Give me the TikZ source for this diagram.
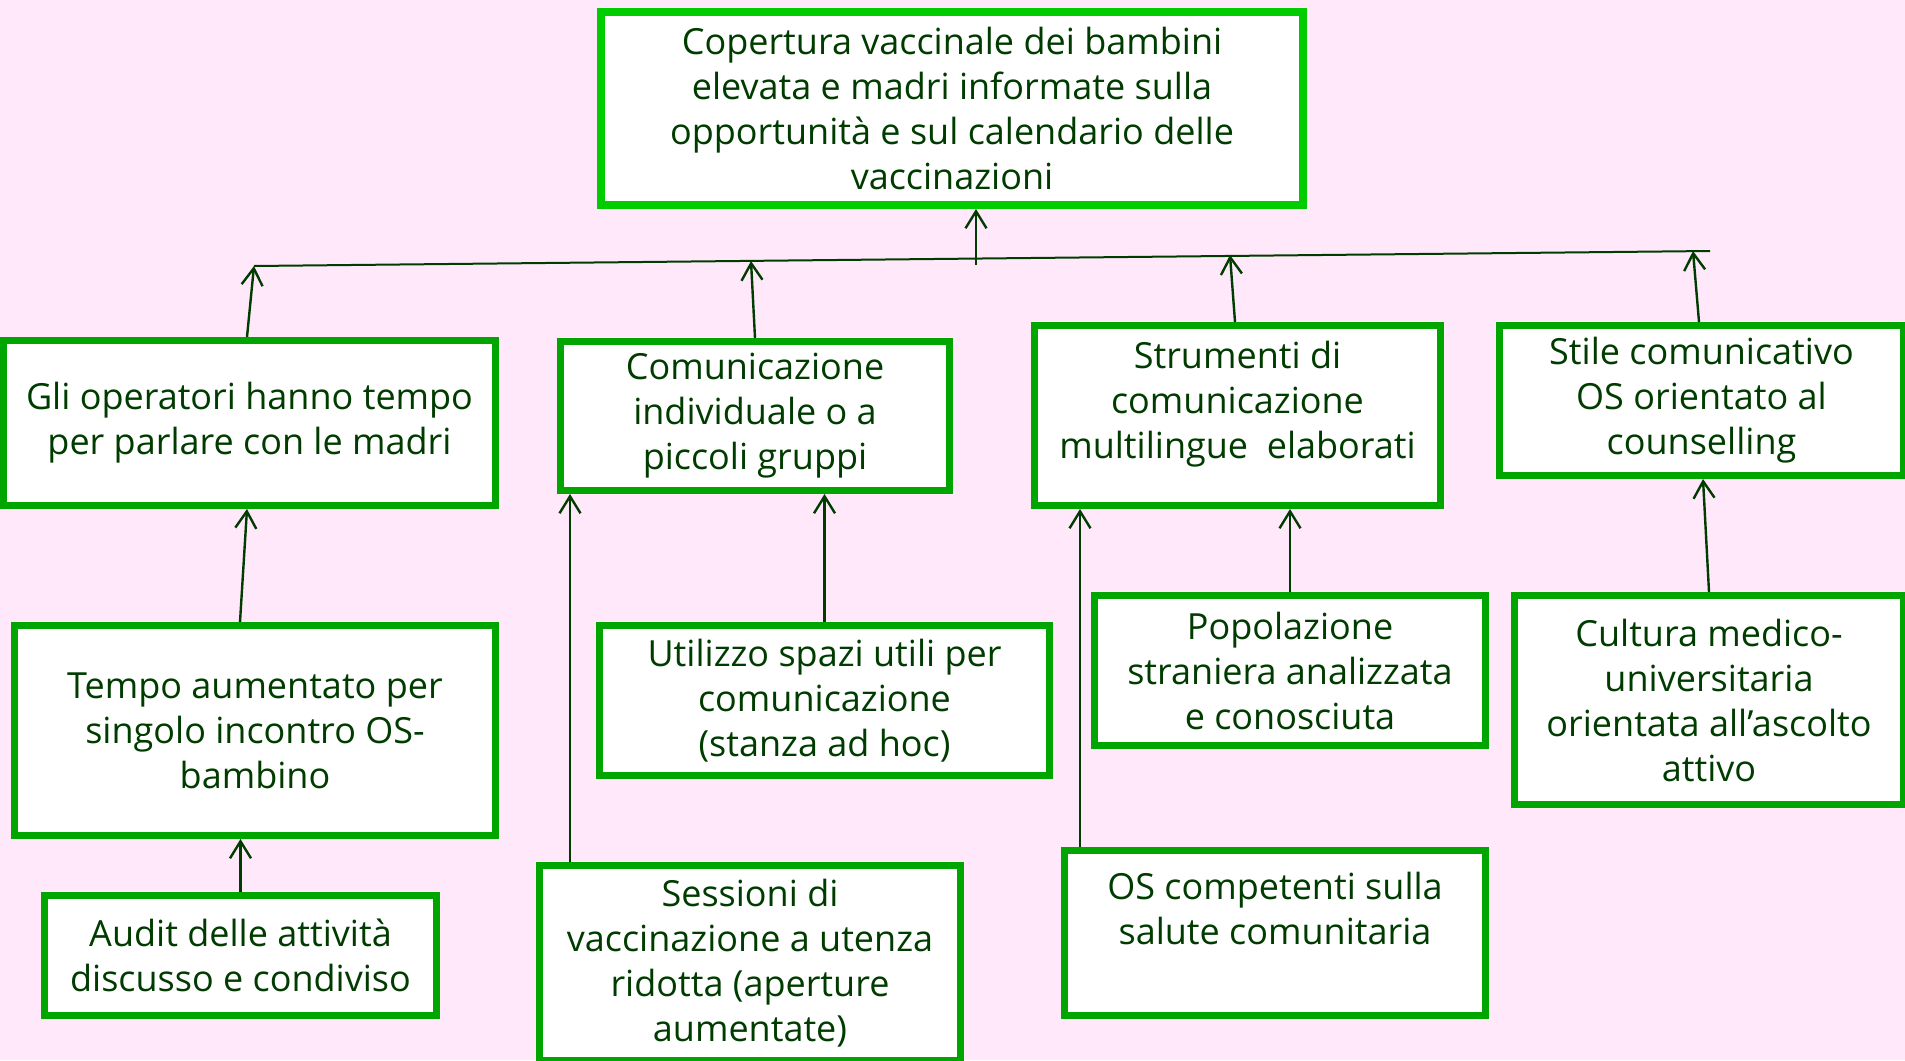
\documentclass[tikz,border=0pt]{standalone}
\usepackage{fontspec}
\setmainfont{Open Sans}
\usetikzlibrary{arrows.meta}

\definecolor{bg}{RGB}{255,232,250}
\definecolor{boxgreen}{RGB}{0,165,0}
\definecolor{topgreen}{RGB}{0,204,0}
\definecolor{ink}{RGB}{0,60,0}

\begin{document}
\begin{tikzpicture}[x=0.5pt,y=-0.5pt,
    >={Straight Barb[length=8.5pt,width=10.5pt]},
    box/.style={draw=boxgreen,line width=3.5pt,fill=white,text=ink,align=center,
        inner sep=0pt,font=\fontsize{18}{22.5}\selectfont},
    link/.style={->,draw=ink,line width=1.2pt},
    lift/.style={text depth=#1}]
    \useasboundingbox (0,0) rectangle (1905,1060);
    \clip (0,0) rectangle (1905,1060);
    \fill[bg] (0,0) rectangle (1905,1060);

    % goal on top
    \node[box,draw=topgreen,line width=4pt,minimum width=351pt,minimum height=96.5pt]
        (goal) at (952,108.5) {Copertura vaccinale dei bambini\\elevata e madri informate sulla\\opportunità e sul calendario delle\\vaccinazioni};

    % second row
    \node[box,minimum width=246pt,minimum height=82.5pt]   (gli)   at (249.5,423)    {Gli operatori hanno tempo\\per parlare con le madri};
    \node[box,minimum width=194.5pt,minimum height=74.5pt] (comun) at (755,416)      {Comunicazione\\individuale o a\\piccoli gruppi};
    \node[box,minimum width=203pt,minimum height=90pt,lift=16pt] (strum) at (1237.5,415.5) {Strumenti di\\comunicazione\\multilingue\ \ elaborati};
    \node[box,minimum width=202pt,minimum height=75pt]     (stile) at (1701.5,400.5) {Stile comunicativo\\OS orientato al\\counselling};

    % lower rows
    \node[box,minimum width=240.5pt,minimum height=105pt]  (tempo) at (255,730.5)    {Tempo aumentato per\\singolo incontro OS-\\bambino};
    \node[box,minimum width=196pt,minimum height=60pt]     (audit) at (240.5,955.5)  {Audit delle attività\\discusso e condiviso};
    \node[box,minimum width=225pt,minimum height=75pt]     (spazi) at (824.5,700.5)  {Utilizzo spazi utili per\\comunicazione\\(stanza ad hoc)};
    \node[box,minimum width=210.5pt,minimum height=97.5pt] (sess)  at (750,963)      {Sessioni di\\vaccinazione a utenza\\ridotta (aperture\\aumentate)};
    \node[box,minimum width=195.5pt,minimum height=75pt]   (popol) at (1290,670.5)   {Popolazione\\straniera analizzata\\e conosciuta};
    \node[box,minimum width=210.5pt,minimum height=82.5pt,lift=25pt] (osc) at (1275,933) {OS competenti sulla\\salute comunitaria};
    \node[box,minimum width=194.5pt,minimum height=104.5pt] (cult) at (1709,700)     {Cultura medico-\\universitaria\\orientata all’ascolto\\attivo};

    % bus under the goal
    \coordinate (busL) at (254,266);
    \coordinate (busR) at (1710,251);
    \coordinate (bcom) at (751,261);
    \coordinate (bstr) at (1230,255);
    \coordinate (bsti) at (1693,251);
    \coordinate (hub)  at (976,265);
    \draw[ink,line width=1pt] (busL) -- (busR);
    \draw[link] (hub) -- ([xshift=12pt]goal.south);

    \draw[link] ([xshift=-1.25pt]gli.north) -- (busL);
    \draw[link] (comun.north) -- (bcom);
    \draw[link] ([xshift=-1.25pt]strum.north) -- (bstr);
    \draw[link] ([xshift=-1.25pt]stile.north) -- (bsti);

    \draw[link] ([xshift=-7.5pt]tempo.north) -- ([xshift=-1.25pt]gli.south);
    \draw[link] (audit.north) -- (audit.north |- tempo.south);
    \draw[link] (spazi.north) -- (spazi.north |- comun.south);
    \draw[link] ([xshift=-90pt]sess.north) -- ([xshift=-90pt]sess.north |- comun.south);
    \draw[link] (popol.north) -- (popol.north |- strum.south);
    \draw[link] ([xshift=-97.5pt]osc.north) -- ([xshift=-97.5pt]osc.north |- strum.south);
    \draw[link] (cult.north) -- ([xshift=0.75pt]stile.south);
\end{tikzpicture}
\end{document}
